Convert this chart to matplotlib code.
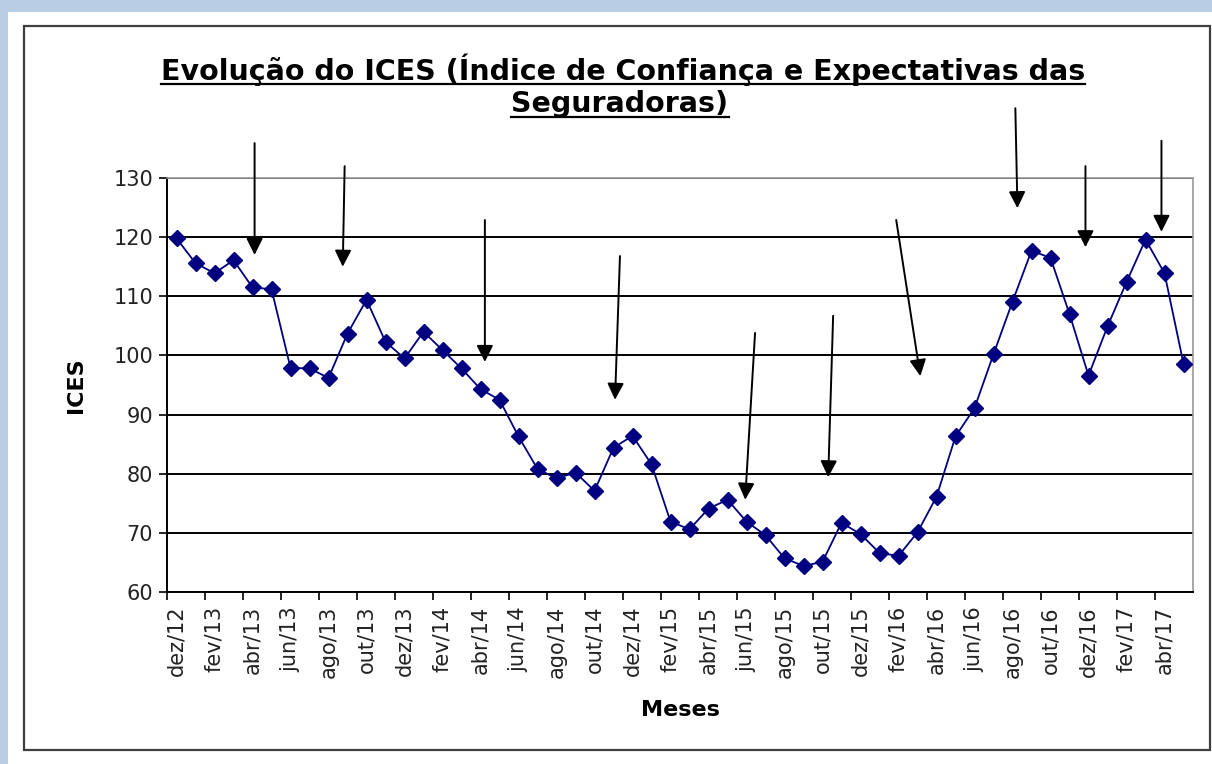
import matplotlib.pyplot as plt
from matplotlib.patches import Rectangle
from matplotlib.lines import Line2D

# ICES monthly values, dez/12 .. mai/17
ices = [119.8, 115.6, 113.9, 116.1, 111.5, 111.2, 97.9, 97.8, 96.2, 103.7,
        109.4, 102.3, 99.5, 104.0, 100.9, 97.8, 94.3, 92.5, 86.3, 80.8,
        79.2, 80.2, 77.1, 84.4, 86.4, 81.6, 71.9, 70.6, 74.1, 75.6,
        71.9, 69.6, 65.7, 64.4, 65.1, 71.7, 69.8, 66.6, 66.1, 70.1,
        76.1, 86.3, 91.1, 100.2, 109.1, 117.7, 116.5, 107.0, 96.6, 104.9,
        112.4, 119.6, 113.9, 98.6]

month_labels = ['dez/12', 'fev/13', 'abr/13', 'jun/13', 'ago/13', 'out/13',
                'dez/13', 'fev/14', 'abr/14', 'jun/14', 'ago/14', 'out/14',
                'dez/14', 'fev/15', 'abr/15', 'jun/15', 'ago/15', 'out/15',
                'dez/15', 'fev/16', 'abr/16', 'jun/16', 'ago/16', 'out/16',
                'dez/16', 'fev/17', 'abr/17']

# hand-drawn arrows: (x_tail, y_tail, x_tip, y_tip) in data units
arrows = [(4.11, 135.9, 4.11, 117.0),
          (8.85, 132.0, 8.75, 115.0),
          (16.23, 122.9, 16.23, 98.9),
          (23.34, 116.8, 23.08, 92.5),
          (30.45, 103.8, 29.93, 75.6),
          (34.56, 106.7, 34.30, 79.4),
          (37.88, 122.9, 39.15, 96.5),
          (44.15, 141.8, 44.26, 124.9),
          (47.84, 132.0, 47.84, 118.3),
          (51.84, 136.3, 51.84, 120.9)]

W, H = 1212, 764
fig = plt.figure(figsize=(W / 100, H / 100), dpi=100)
fig.patch.set_facecolor('#b9cde5')

# white chart area and its dark frame
fig.patches.append(Rectangle((8 / W, 0), 1 - 8 / W, 1 - 12 / H, transform=fig.transFigure,
                             facecolor='white', edgecolor='none', zorder=-2))
fig.patches.append(Rectangle((24 / W, 1 - 750 / H), (1210 - 24) / W, (750 - 26) / H,
                             transform=fig.transFigure, facecolor='none',
                             edgecolor='#404040', lw=1.6, zorder=-1))

ax = fig.add_axes([167 / W, 1 - 592 / H, (1193 - 167) / W, (592 - 178) / H])
ax.set_facecolor('white')

x = list(range(len(ices)))
ax.plot(x, ices, color='#000080', lw=1.3, marker='D', markersize=8,
        markerfacecolor='#000080', markeredgecolor='#000080', zorder=3)

ax.set_xlim(-0.5, len(ices) - 0.5)
ax.set_ylim(60, 130)
ax.set_yticks(range(60, 131, 10))
ax.yaxis.grid(True, color='black', lw=1.4)
ax.set_axisbelow(True)

# category ticks between label groups, labels centred on every 2nd month
ax.set_xticks([i - 0.5 for i in range(0, len(ices), 2)])
ax.set_xticklabels([])
ax.set_xticks(list(range(0, 2 * len(month_labels), 2)), minor=True)
ax.set_xticklabels(month_labels, minor=True, rotation=90, fontsize=15, color='#222222')
ax.tick_params(axis='x', which='minor', length=0, pad=10)
ax.tick_params(axis='x', which='major', length=6, width=1.2, direction='out')
ax.tick_params(axis='y', length=6, width=1.2, labelsize=15, labelcolor='#222222', pad=4)

for s in ['top', 'right']:
    ax.spines[s].set_color('#999999')
    ax.spines[s].set_linewidth(1.2)
for s in ['left', 'bottom']:
    ax.spines[s].set_color('black')
    ax.spines[s].set_linewidth(1.4)

ax.set_ylabel('ICES', fontsize=16, fontweight='bold', labelpad=20)
ax.set_xlabel('Meses', fontsize=16, fontweight='bold', labelpad=16)

for xt, yt, xh, yh in arrows:
    ax.annotate('', xy=(xh, yh), xytext=(xt, yt), annotation_clip=False,
                arrowprops=dict(arrowstyle='-|>,head_length=0.5,head_width=0.25',
                                mutation_scale=20, color='black', lw=1.4,
                                shrinkA=0, shrinkB=0), zorder=4)

# underlined two-line title
t1 = fig.text(623 / W, 1 - 80 / H, 'Evolução do ICES (Índice de Confiança e Expectativas das',
              ha='center', va='baseline', fontsize=20.5, fontweight='bold')
t2 = fig.text(620 / W, 1 - 112 / H, 'Seguradoras)',
              ha='center', va='baseline', fontsize=20.5, fontweight='bold')
fig.canvas.draw()
r = fig.canvas.get_renderer()
for t, yb in [(t1, 84), (t2, 117)]:
    bb = t.get_window_extent(r)
    fig.add_artist(Line2D([bb.x0 / W, bb.x1 / W], [1 - yb / H, 1 - yb / H],
                          transform=fig.transFigure, color='black', lw=1.6))

fig.savefig('out.png', dpi=100)
